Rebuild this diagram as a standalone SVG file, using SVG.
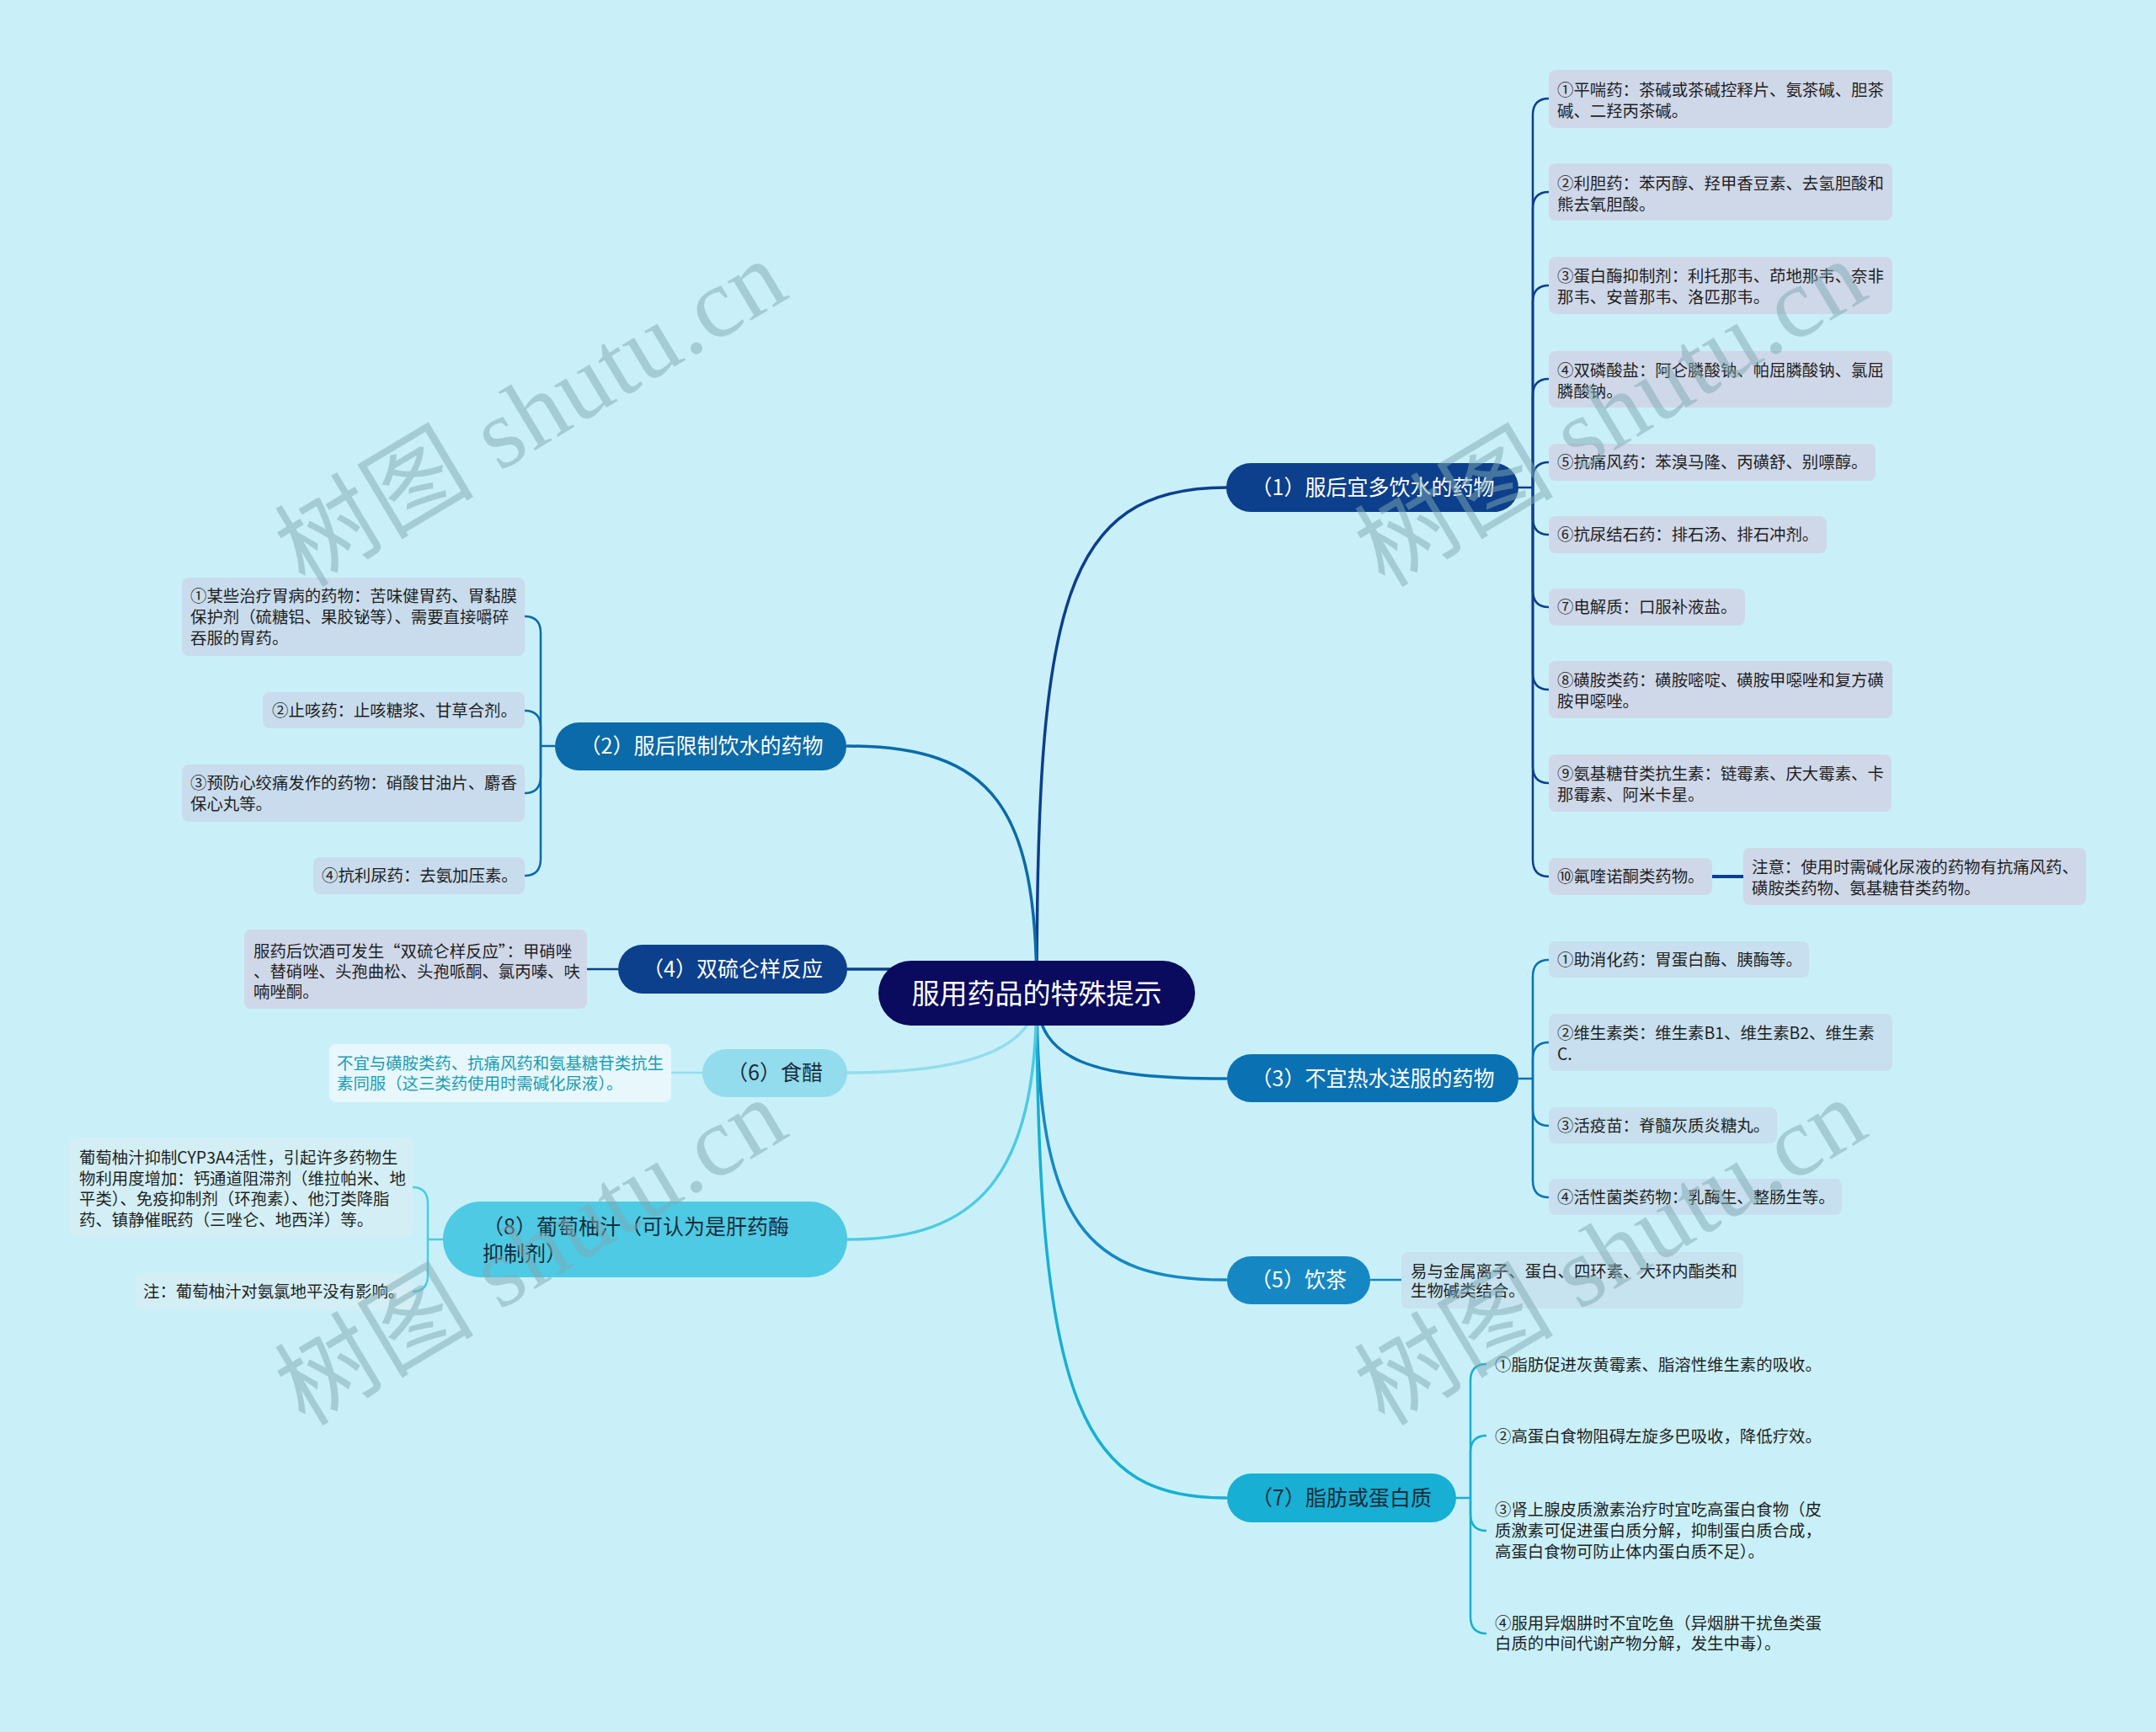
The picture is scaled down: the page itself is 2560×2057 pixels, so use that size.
<svg xmlns="http://www.w3.org/2000/svg" width="2560" height="2057" viewBox="0 0 2560 2057">
<style>
text{font-family:"Noto Sans CJK SC","Noto Sans",sans-serif}
.lf{font-size:19.4px;fill:#1f1f1f}
.nt{font-size:25px;fill:#ffffff;text-anchor:middle}
.dk{fill:#1b2d3a}
.ct{font-size:33px;fill:#ffffff;text-anchor:middle}
.b1{fill:#cfd8e9}
.b2{fill:#c8dced}
.b3{fill:#c7dfee}
.b5{fill:#c6e3ef}
.b6{fill:#e7f7fb}
.b8{fill:#d3eff5}
.c{fill:none;stroke-width:3.5;stroke-linecap:round}
.l{fill:none;stroke-width:2.5}
.wm{font-family:"Liberation Serif","Noto Sans CJK SC",serif;font-size:118px;fill:#7fa9b3;opacity:0.5}
</style>
<rect width="2560" height="2057" fill="#c9f0f8"/>

<g id="connectors">
  <path class="c" stroke="#0c3f8c" d="M1231 1180 C1231 720 1262 579 1456 579"/>
  <path class="c" stroke="#0b6aa9" d="M1231 1180 C1231 960 1180 886 1006 886"/>
  <path class="c" stroke="#0a72b2" d="M1231 1180 C1231 1262 1300 1281 1456 1281"/>
  <path class="c" stroke="#0c3f8c" d="M1100 1151 L1006 1151"/>
  <path class="c" stroke="#1588c4" d="M1231 1180 C1231 1455 1290 1520 1456 1520"/>
  <path class="c" stroke="#93dced" d="M1231 1180 C1231 1245 1150 1274 1006 1274"/>
  <path class="c" stroke="#17afd3" d="M1231 1180 C1231 1680 1290 1779 1456 1779"/>
  <path class="c" stroke="#4ecae4" d="M1231 1180 C1231 1400 1160 1472 1006 1472"/>

  <g stroke="#0c3f8c" class="l">
    <path d="M1803 579 L1820 579"/>
    <path d="M1820 579 L1820 137 Q1820 117 1839 117"/>
    <path d="M1820 579 L1820 248 Q1820 228 1839 228"/>
    <path d="M1820 579 L1820 359 Q1820 339 1839 339"/>
    <path d="M1820 579 L1820 470 Q1820 450 1839 450"/>
    <path d="M1820 579 L1820 569 Q1820 549 1839 549"/>
    <path d="M1820 579 L1820 615 Q1820 635 1839 635"/>
    <path d="M1820 579 L1820 701 Q1820 721 1839 721"/>
    <path d="M1820 579 L1820 799 Q1820 819 1839 819"/>
    <path d="M1820 579 L1820 910 Q1820 930 1839 930"/>
    <path d="M1820 579 L1820 1021 Q1820 1041 1839 1041"/>
    <path d="M2033 1041 L2070 1041" stroke-width="4"/>
  </g>
  <g stroke="#0a72b2" class="l">
    <path d="M1803 1281 L1820 1281"/>
    <path d="M1820 1281 L1820 1160 Q1820 1140 1839 1140"/>
    <path d="M1820 1281 L1820 1258 Q1820 1238 1839 1238"/>
    <path d="M1820 1281 L1820 1317 Q1820 1337 1839 1337"/>
    <path d="M1820 1281 L1820 1402 Q1820 1422 1839 1422"/>
  </g>
  <path class="l" stroke="#1588c4" stroke-width="3.5" d="M1627 1520 L1664 1520"/>
  <g stroke="#17afd3" class="l">
    <path d="M1729 1779 L1746 1779"/>
    <path d="M1746 1779 L1746 1640 Q1746 1620 1765 1620"/>
    <path d="M1746 1779 L1746 1725 Q1746 1705 1765 1705"/>
    <path d="M1746 1779 L1746 1798 Q1746 1818 1765 1818"/>
    <path d="M1746 1779 L1746 1920 Q1746 1940 1765 1940"/>
  </g>
  <g stroke="#0b6aa9" class="l">
    <path d="M659 886 L642 886"/>
    <path d="M642 886 L642 752 Q642 732 623 732"/>
    <path d="M642 886 L642 864 Q642 844 623 844"/>
    <path d="M642 886 L642 922 Q642 942 623 942"/>
    <path d="M642 886 L642 1020 Q642 1040 623 1040"/>
  </g>
  <path class="l" stroke="#0c3f8c" stroke-width="3.5" d="M734 1151 L697 1151"/>
  <path class="l" stroke="#93dced" stroke-width="3.5" d="M834 1274 L797 1274"/>
  <g stroke="#4ecae4" class="l">
    <path d="M526 1472 L508 1472"/>
    <path d="M508 1472 L508 1430 Q508 1410 490 1410"/>
    <path d="M508 1472 L508 1514 Q508 1534 490 1534"/>
  </g>
</g>

<g id="center">
  <rect x="1043" y="1141" width="376" height="77" rx="38.5" fill="#0a0a5e"/>
  <text class="ct" x="1231" y="1192">服用药品的特殊提示</text>
</g>

<g id="n1">
  <rect x="1456" y="550" width="347" height="58" rx="29" fill="#0c3f8c"/>
  <text class="nt" x="1630" y="588">（1）服后宜多饮水的药物</text>
</g>
<g id="n2">
  <rect x="659" y="858" width="346" height="57" rx="28.5" fill="#0b6aa9"/>
  <text class="nt" x="833" y="895">（2）服后限制饮水的药物</text>
</g>
<g id="n3">
  <rect x="1457" y="1252" width="346" height="57" rx="28.5" fill="#0a72b2"/>
  <text class="nt" x="1630" y="1290">（3）不宜热水送服的药物</text>
</g>
<g id="n4">
  <rect x="734" y="1122" width="272" height="58" rx="29" fill="#0c3f8c"/>
  <text class="nt" x="870" y="1160">（4）双硫仑样反应</text>
</g>
<g id="n5">
  <rect x="1457" y="1492" width="170" height="57" rx="28.5" fill="#1588c4"/>
  <text class="nt" x="1542" y="1529">（5）饮茶</text>
</g>
<g id="n6">
  <rect x="834" y="1246" width="172" height="57" rx="28.5" fill="#93dced"/>
  <text class="nt dk" x="920" y="1283">（6）食醋</text>
</g>
<g id="n7">
  <rect x="1457" y="1750" width="272" height="58" rx="29" fill="#17afd3"/>
  <text class="nt dk" x="1593" y="1788">（7）脂肪或蛋白质</text>
</g>
<g id="n8">
  <rect x="526" y="1427" width="480" height="90" rx="45" fill="#4ecae4"/>
  <text class="nt dk" style="text-anchor:start" x="573" y="1466">（8）葡萄柚汁（可认为是肝药酶</text>
  <text class="nt dk" style="text-anchor:start" x="573" y="1498">抑制剂）</text>
</g>

<g id="n1-1"><rect class="b1" x="1839" y="83" width="408" height="69" rx="8"/>
  <text class="lf" x="1849" y="114">①平喘药：茶碱或茶碱控释片、氨茶碱、胆茶</text>
  <text class="lf" x="1849" y="139">碱、二羟丙茶碱。</text></g>
<g id="n1-2"><rect class="b1" x="1839" y="194" width="408" height="68" rx="8"/>
  <text class="lf" x="1849" y="225">②利胆药：苯丙醇、羟甲香豆素、去氢胆酸和</text>
  <text class="lf" x="1849" y="250">熊去氧胆酸。</text></g>
<g id="n1-3"><rect class="b1" x="1839" y="305" width="408" height="68" rx="8"/>
  <text class="lf" x="1849" y="335">③蛋白酶抑制剂：利托那韦、茚地那韦、奈非</text>
  <text class="lf" x="1849" y="360">那韦、安普那韦、洛匹那韦。</text></g>
<g id="n1-4"><rect class="b1" x="1839" y="417" width="408" height="67" rx="8"/>
  <text class="lf" x="1849" y="447">④双磷酸盐：阿仑膦酸钠、帕屈膦酸钠、氯屈</text>
  <text class="lf" x="1849" y="472">膦酸钠。</text></g>
<g id="n1-5"><rect class="b1" x="1839" y="527" width="388" height="44" rx="8"/>
  <text class="lf" x="1849" y="556">⑤抗痛风药：苯溴马隆、丙磺舒、别嘌醇。</text></g>
<g id="n1-6"><rect class="b1" x="1839" y="613" width="330" height="44" rx="8"/>
  <text class="lf" x="1849" y="642">⑥抗尿结石药：排石汤、排石冲剂。</text></g>
<g id="n1-7"><rect class="b1" x="1839" y="699" width="233" height="44" rx="8"/>
  <text class="lf" x="1849" y="728">⑦电解质：口服补液盐。</text></g>
<g id="n1-8"><rect class="b1" x="1839" y="785" width="408" height="68" rx="8"/>
  <text class="lf" x="1849" y="815">⑧磺胺类药：磺胺嘧啶、磺胺甲噁唑和复方磺</text>
  <text class="lf" x="1849" y="840">胺甲噁唑。</text></g>
<g id="n1-9"><rect class="b1" x="1839" y="896" width="407" height="68" rx="8"/>
  <text class="lf" x="1849" y="926">⑨氨基糖苷类抗生素：链霉素、庆大霉素、卡</text>
  <text class="lf" x="1849" y="951">那霉素、阿米卡星。</text></g>
<g id="n1-10"><rect class="b1" x="1839" y="1019" width="194" height="44" rx="8"/>
  <text class="lf" x="1849" y="1048">⑩氟喹诺酮类药物。</text></g>
<g id="n1-10-1"><rect class="b1" x="2070" y="1007" width="407" height="68" rx="8"/>
  <text class="lf" x="2080" y="1037">注意：使用时需碱化尿液的药物有抗痛风药、</text>
  <text class="lf" x="2080" y="1062">磺胺类药物、氨基糖苷类药物。</text></g>

<g id="n3-1"><rect class="b3" x="1839" y="1118" width="309" height="43" rx="8"/>
  <text class="lf" x="1849" y="1147">①助消化药：胃蛋白酶、胰酶等。</text></g>
<g id="n3-2"><rect class="b3" x="1839" y="1204" width="408" height="68" rx="8"/>
  <text class="lf" x="1849" y="1234">②维生素类：维生素B1、维生素B2、维生素</text>
  <text class="lf" x="1849" y="1259">C.</text></g>
<g id="n3-3"><rect class="b3" x="1839" y="1315" width="271" height="43" rx="8"/>
  <text class="lf" x="1849" y="1344">③活疫苗：脊髓灰质炎糖丸。</text></g>
<g id="n3-4"><rect class="b3" x="1839" y="1400" width="348" height="43" rx="8"/>
  <text class="lf" x="1849" y="1429">④活性菌类药物：乳酶生、整肠生等。</text></g>

<g id="n5-1"><rect class="b5" x="1664" y="1487" width="406" height="67" rx="8"/>
  <text class="lf" x="1675" y="1517">易与金属离子、蛋白、四环素、大环内酯类和</text>
  <text class="lf" x="1675" y="1540">生物碱类结合。</text></g>

<g id="n7-1"><text class="lf" x="1775" y="1628">①脂肪促进灰黄霉素、脂溶性维生素的吸收。</text></g>
<g id="n7-2"><text class="lf" x="1775" y="1713">②高蛋白食物阻碍左旋多巴吸收，降低疗效。</text></g>
<g id="n7-3">
  <text class="lf" x="1775" y="1800">③肾上腺皮质激素治疗时宜吃高蛋白食物（皮</text>
  <text class="lf" x="1775" y="1825">质激素可促进蛋白质分解，抑制蛋白质合成，</text>
  <text class="lf" x="1775" y="1850">高蛋白食物可防止体内蛋白质不足）。</text></g>
<g id="n7-4">
  <text class="lf" x="1775" y="1935">④服用异烟肼时不宜吃鱼（异烟肼干扰鱼类蛋</text>
  <text class="lf" x="1775" y="1959">白质的中间代谢产物分解，发生中毒）。</text></g>

<g id="n2-1"><rect class="b2" x="216" y="686" width="407" height="93" rx="8"/>
  <text class="lf" x="226" y="715">①某些治疗胃病的药物：苦味健胃药、胃黏膜</text>
  <text class="lf" x="226" y="740">保护剂（硫糖铝、果胶铋等）、需要直接嚼碎</text>
  <text class="lf" x="226" y="765">吞服的胃药。</text></g>
<g id="n2-2"><rect class="b2" x="312" y="822" width="311" height="43" rx="8"/>
  <text class="lf" x="323" y="851">②止咳药：止咳糖浆、甘草合剂。</text></g>
<g id="n2-3"><rect class="b2" x="216" y="908" width="407" height="68" rx="8"/>
  <text class="lf" x="226" y="937">③预防心绞痛发作的药物：硝酸甘油片、麝香</text>
  <text class="lf" x="226" y="962">保心丸等。</text></g>
<g id="n2-4"><rect class="b2" x="372" y="1018" width="251" height="44" rx="8"/>
  <text class="lf" x="382" y="1047">④抗利尿药：去氨加压素。</text></g>

<g id="n4-1"><rect class="b1" x="290" y="1104" width="407" height="94" rx="8"/>
  <text class="lf" x="301" y="1137">服药后饮酒可发生“双硫仑样反应”：甲硝唑</text>
  <text class="lf" x="301" y="1161">、替硝唑、头孢曲松、头孢哌酮、氯丙嗪、呋</text>
  <text class="lf" x="301" y="1185">喃唑酮。</text></g>

<g id="n6-1"><rect class="b6" x="391" y="1240" width="406" height="69" rx="8"/>
  <text class="lf" style="fill:#1a9cb3" x="400" y="1270">不宜与磺胺类药、抗痛风药和氨基糖苷类抗生</text>
  <text class="lf" style="fill:#1a9cb3" x="400" y="1294">素同服（这三类药使用时需碱化尿液）。</text></g>

<g id="n8-1"><rect class="b8" x="83" y="1351" width="407" height="118" rx="8"/>
  <text class="lf" x="94" y="1382">葡萄柚汁抑制CYP3A4活性，引起许多药物生</text>
  <text class="lf" x="94" y="1407">物利用度增加：钙通道阻滞剂（维拉帕米、地</text>
  <text class="lf" x="94" y="1431">平类）、免疫抑制剂（环孢素）、他汀类降脂</text>
  <text class="lf" x="94" y="1456">药、镇静催眠药（三唑仑、地西洋）等。</text></g>
<g id="n8-2"><rect class="b8" x="161" y="1512" width="329" height="44" rx="8"/>
  <text class="lf" x="170" y="1541">注：葡萄柚汁对氨氯地平没有影响。</text></g>

<g id="watermark">
  <text class="wm" transform="translate(362 699) rotate(-31)" textLength="674" lengthAdjust="spacing">树图 shutu.cn</text>
  <text class="wm" transform="translate(1644 699) rotate(-31)" textLength="674" lengthAdjust="spacing">树图 shutu.cn</text>
  <text class="wm" transform="translate(362 1695) rotate(-31)" textLength="674" lengthAdjust="spacing">树图 shutu.cn</text>
  <text class="wm" transform="translate(1644 1695) rotate(-31)" textLength="674" lengthAdjust="spacing">树图 shutu.cn</text>
</g>
</svg>
